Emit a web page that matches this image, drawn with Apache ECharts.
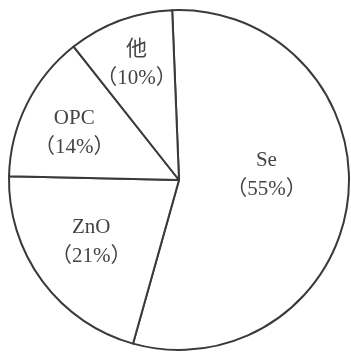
<!DOCTYPE html>
<html>
<head>
<meta charset="utf-8">
<script src="https://cdn.jsdelivr.net/npm/echarts@6/dist/echarts.min.js"></script>
<style>
  html, body { margin: 0; padding: 0; background: #fff; }
  #chart { width: 351px; height: 356px; }
</style>
</head>
<body>
<div id="chart"></div>
<script>
// Share of each material (percent)
const names = ['Se', 'ZnO', 'OPC', '他'];
const shares = [55, 21, 14, 10];
// Per-slice nudges of the inside labels, in pixels
const labelShift = [[0, -15], [-17, 10], [-26, -8], [-12, -33]];

const chart = echarts.init(document.getElementById('chart'), null, { renderer: 'canvas' });

chart.setOption({
  backgroundColor: '#fff',
  animation: false,
  series: [{
    type: 'pie',
    center: [179, 180],
    radius: [0, 170],
    startAngle: 92.3,
    clockwise: true,
    avoidLabelOverlap: false,
    silent: true,
    itemStyle: {
      color: '#fff',
      borderColor: '#3a3a3a',
      borderWidth: 2
    },
    label: {
      show: true,
      position: 'inside',
      color: '#444',
      fontFamily: '"Liberation Serif", "DejaVu Serif", "Noto Sans CJK JP", serif',
      fontSize: 21,
      lineHeight: 29,
      align: 'center',
      formatter: p => p.name + '\n（' + p.value + '%）'
    },
    labelLine: { show: false },
    labelLayout: p => ({ dx: labelShift[p.dataIndex][0], dy: labelShift[p.dataIndex][1] }),
    data: names.map((n, i) => ({ name: n, value: shares[i] }))
  }]
});
</script>
</body>
</html>
